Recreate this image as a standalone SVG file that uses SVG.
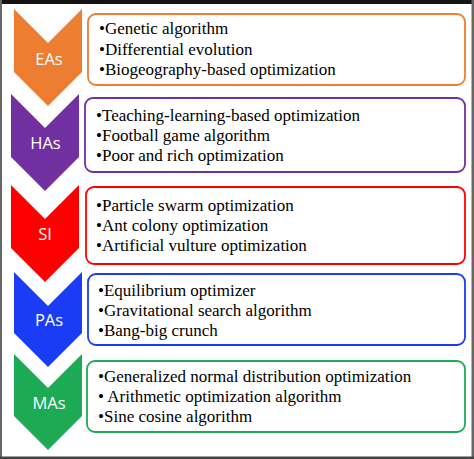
<svg xmlns="http://www.w3.org/2000/svg" width="474" height="459" viewBox="0 0 474 459">
  <style>
    .lbl { font-family: "Open Sans", "Noto Sans", sans-serif; font-size: 16.5px; fill: #ffffff; text-anchor: middle; }
    .item { font-family: "Liberation Serif", "Times New Roman", serif; font-size: 17px; fill: #000000; }
    .box { fill: #ffffff; stroke-width: 1.8; }
  </style>
  <rect x="0" y="0" width="474" height="459" fill="#ffffff"/>
  <g id="frame">
    <rect x="0" y="0" width="474" height="4" fill="#141414"/>
    <rect x="0" y="0" width="2" height="459" fill="#666666"/>
    <rect x="471.5" y="0" width="2.5" height="459" fill="#666666"/>
    <rect x="0" y="456.5" width="474" height="2.5" fill="#444444"/>
  </g>
  <g id="connectors"></g>
  <g id="EAs">
    <path d="M14,9 L48,43 L82,9 L82,72 L48,106 L14,72 Z" fill="#ED7D31"/>
    <text class="lbl" x="49" y="65">EAs</text>
    <rect class="box" x="88" y="14" width="377" height="71" rx="8" stroke="#ED7D31"/>
    <text class="item" x="99" y="34">•Genetic algorithm</text>
    <text class="item" x="99" y="54.5">•Differential evolution</text>
    <text class="item" x="99" y="75">•Biogeography-based optimization</text>
  </g>
  <g id="HAs">
    <path d="M11,94 L45,128 L79,94 L79,157 L45,191 L11,157 Z" fill="#7030A0"/>
    <text class="lbl" x="45.5" y="149">HAs</text>
    <rect class="box" x="85" y="98" width="380" height="74" rx="8" stroke="#7030A0"/>
    <text class="item" x="96" y="121">•Teaching-learning-based optimization</text>
    <text class="item" x="96" y="141">•Football game algorithm</text>
    <text class="item" x="96" y="161">•Poor and rich optimization</text>
  </g>
  <g id="SI">
    <path d="M11,185 L45,219 L79,185 L79,248 L45,282 L11,248 Z" fill="#FF0000"/>
    <text class="lbl" x="45" y="240">SI</text>
    <rect class="box" x="86" y="187" width="379" height="77" rx="8" stroke="#FF0000"/>
    <text class="item" x="96" y="211">•Particle swarm optimization</text>
    <text class="item" x="96" y="231">•Ant colony optimization</text>
    <text class="item" x="96" y="251">•Artificial vulture optimization</text>
  </g>
  <g id="PAs">
    <path d="M14,272 L48,306 L82,272 L82,333 L48,367 L14,333 Z" fill="#1A3CF5"/>
    <text class="lbl" x="49" y="326">PAs</text>
    <rect class="box" x="88" y="274" width="377" height="71" rx="8" stroke="#1A3CF5"/>
    <text class="item" x="98" y="296">•Equilibrium optimizer</text>
    <text class="item" x="98" y="316">•Gravitational search algorithm</text>
    <text class="item" x="98" y="336">•Bang-big crunch</text>
  </g>
  <g id="MAs">
    <path d="M14,354 L48,388 L82,354 L82,416 L48,450 L14,416 Z" fill="#1DAA55"/>
    <text class="lbl" x="49" y="409">MAs</text>
    <rect class="box" x="87" y="361" width="378" height="71" rx="8" stroke="#1DAA55"/>
    <text class="item" x="98" y="382">•Generalized normal distribution optimization</text>
    <text class="item" x="98" y="402">• Arithmetic optimization algorithm</text>
    <text class="item" x="98" y="422">•Sine cosine algorithm</text>
  </g>
</svg>
